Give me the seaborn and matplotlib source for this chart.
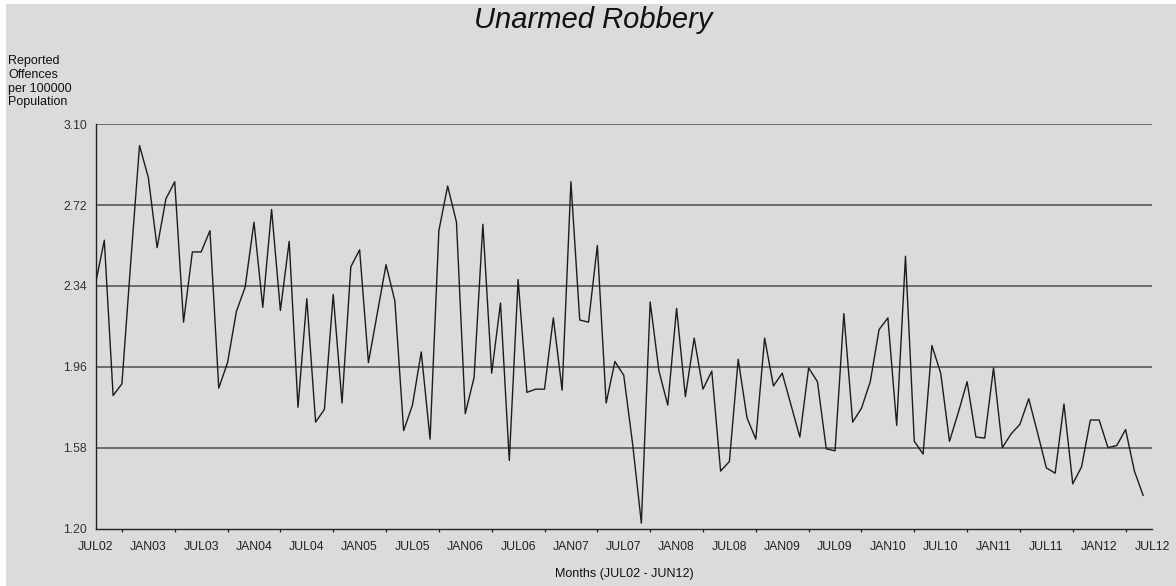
import numpy as np
import pandas as pd
import matplotlib
matplotlib.use('Agg')
import matplotlib.pyplot as plt
import seaborn as sns
from matplotlib.patches import Rectangle

# ── data: monthly rate per 100000 population, grouped by financial year (JUL-JUN)
fy03 = [2.35, 2.555, 1.825, 1.88, 2.45, 3.00, 2.85, 2.52, 2.75, 2.83, 2.17, 2.50]
fy04 = [2.50, 2.60, 1.86, 1.98, 2.22, 2.335, 2.64, 2.24, 2.70, 2.225, 2.55, 1.77]
fy05 = [2.28, 1.70, 1.76, 2.30, 1.79, 2.43, 2.51, 1.98, 2.21, 2.44, 2.27, 1.66]
fy06 = [1.78, 2.03, 1.62, 2.60, 2.81, 2.64, 1.74, 1.91, 2.63, 1.93, 2.26, 1.52]
fy07 = [2.37, 1.84, 1.855, 1.855, 2.19, 1.85, 2.83, 2.18, 2.17, 2.53, 1.79, 1.985]
fy08 = [1.92, 1.60, 1.225, 2.265, 1.94, 1.78, 2.235, 1.82, 2.095, 1.855, 1.94, 1.47]
fy09 = [1.515, 1.995, 1.72, 1.62, 2.095, 1.87, 1.93, 1.78, 1.63, 1.955, 1.89, 1.575]
fy10 = [1.565, 2.21, 1.70, 1.765, 1.89, 2.135, 2.19, 1.685, 2.48, 1.61, 1.55, 2.06]
fy11 = [1.93, 1.61, 1.745, 1.89, 1.63, 1.625, 1.955, 1.58, 1.645, 1.69, 1.81, 1.65]
fy12 = [1.485, 1.46, 1.785, 1.41, 1.49, 1.71, 1.71, 1.58, 1.59, 1.665, 1.47, 1.355]

tick_labels = ['JUL02', 'JAN03', 'JUL03', 'JAN04', 'JUL04', 'JAN05', 'JUL05',
               'JAN06', 'JUL06', 'JAN07', 'JUL07', 'JAN08', 'JUL08', 'JAN09',
               'JUL09', 'JAN10', 'JUL10', 'JAN11', 'JUL11', 'JAN12', 'JUL12']
y_ticks = [1.20, 1.58, 1.96, 2.34, 2.72, 3.10]

rate = fy03 + fy04 + fy05 + fy06 + fy07 + fy08 + fy09 + fy10 + fy11 + fy12
df = pd.DataFrame({'month': np.arange(len(rate)), 'rate': rate})

sns.set_theme(style='white')
plt.rcParams['font.family'] = ['Liberation Sans', 'DejaVu Sans']

BG = '#dbdbdb'
fig = plt.figure(figsize=(11.76, 5.86), dpi=100)
fig.patch.set_facecolor('white')
fig.add_artist(Rectangle((6 / 1176, 0), 1, 1 - 4 / 586, transform=fig.transFigure,
                         facecolor=BG, edgecolor='none', zorder=-10))

ax = fig.add_axes([95.5 / 1176, 1 - 528.5 / 586, (1152 - 95.5) / 1176, (528.5 - 124.3) / 586])
ax.set_facecolor(BG)

# horizontal gridlines (the 3.10 line doubles as the top of the plot)
for y in y_ticks[1:]:
    ax.axhline(y, color='#646464', linewidth=1.3, zorder=1)

sns.lineplot(data=df, x='month', y='rate', ax=ax, color='#1c1c1c', linewidth=1.0, zorder=3)

ax.set_xlim(0, 120)
ax.set_ylim(1.20, 3.10)
ax.set_xticks(np.arange(0, 121, 6))
ax.set_xticklabels(tick_labels)
ax.set_xticks(np.arange(3, 121, 6), minor=True)
ax.set_yticks(y_ticks)
ax.set_yticklabels([f'{v:.2f}' for v in y_ticks])

ax.tick_params(axis='x', which='major', direction='out', length=4, width=0.9,
               color='#222222', labelsize=8.8, labelcolor='#222222', pad=5)
ax.tick_params(axis='x', which='minor', direction='out', length=2.5, width=0.9,
               color='#222222', bottom=True)
ax.tick_params(axis='y', direction='out', length=4, width=0.9, color='#222222',
               labelsize=8.8, labelcolor='#333333', pad=2)

for side in ['top', 'right']:
    ax.spines[side].set_visible(False)
for side in ['left', 'bottom']:
    ax.spines[side].set_color('#222222')
    ax.spines[side].set_linewidth(1.0)

ax.set_xlabel('')
ax.set_ylabel('')

fig.text(593 / 1176, 1 - 20 / 586, 'Unarmed Robbery', ha='center', va='center',
         fontsize=21, fontstyle='italic', color='#111111')
fig.text(8 / 1176, 1 - 55 / 586, 'Reported\nOffences\nper 100000\nPopulation',
         ha='left', va='top', fontsize=9, color='#111111', linespacing=1.2)
fig.text(624 / 1176, 1 - 574 / 586, 'Months (JUL02 - JUN12)', ha='center', va='center',
         fontsize=9, color='#111111')

fig.savefig('out.png', dpi=100, facecolor=fig.get_facecolor())
